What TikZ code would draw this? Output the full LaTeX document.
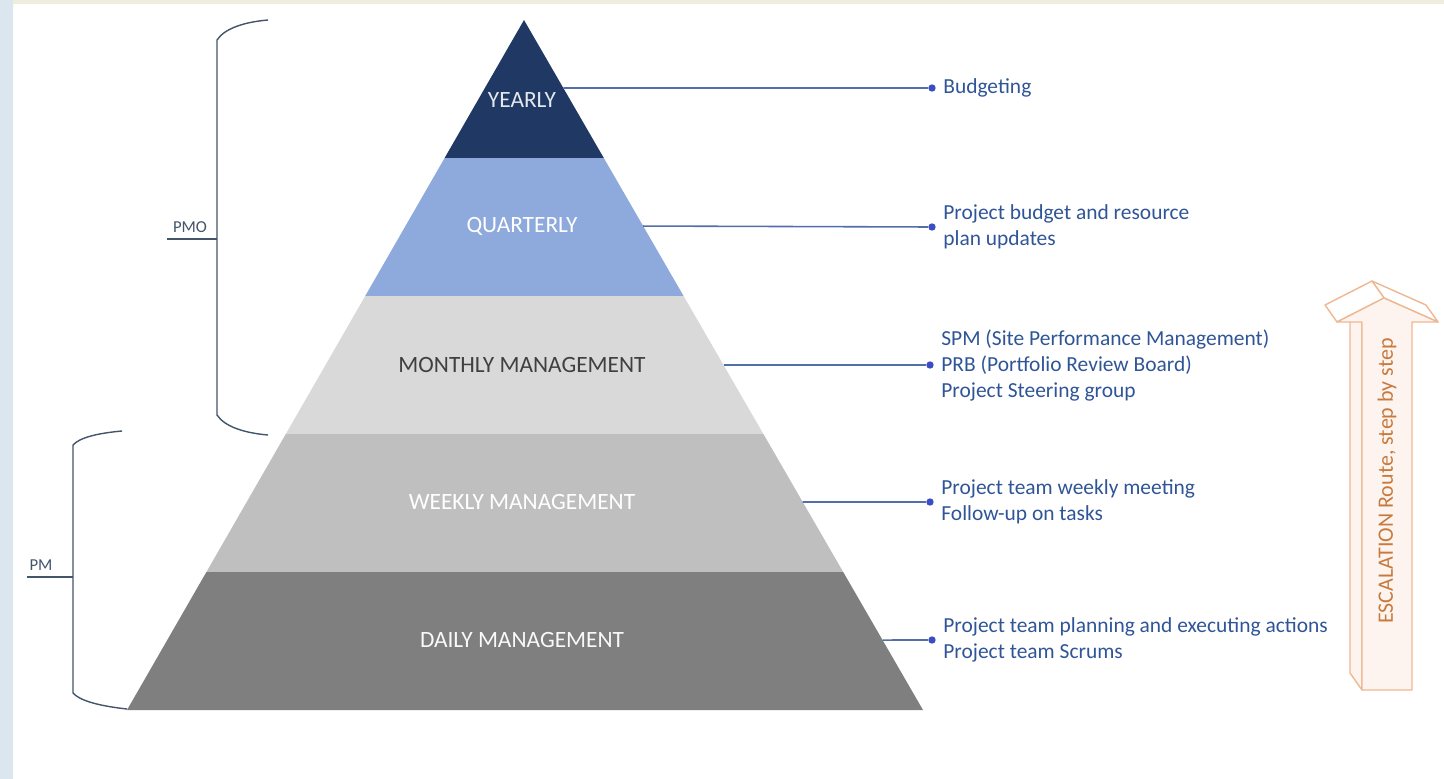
\documentclass[tikz,border=0pt]{standalone}
\usepackage{fontspec}
\setmainfont{Carlito}
\usetikzlibrary{positioning, calc}
\definecolor{Navy-1}{RGB}{31,56,100}
\definecolor{Blue-2}{RGB}{142,169,219}
\definecolor{Gray-3}{RGB}{217,217,217}
\definecolor{Gray-4}{RGB}{191,191,191}
\definecolor{Gray-5}{RGB}{127,127,127}
\definecolor{Ink-1}{RGB}{64,64,64}
\definecolor{Link-1}{RGB}{84,110,170}
\definecolor{Note-1}{RGB}{47,85,151}
\definecolor{Brace-1}{RGB}{68,84,106}
\definecolor{Esc-line}{RGB}{238,184,146}
\definecolor{Esc-fill}{RGB}{253,244,240}
\definecolor{Esc-text}{RGB}{200,122,62}
\definecolor{Edge-1}{RGB}{220,230,238}
\definecolor{Edge-2}{RGB}{251,242,210}

\begin{document}
\begin{tikzpicture}[x=0.02cm, y=-0.02cm]
      \tikzset{ lvl/.style ={font=\fontsize{13.3}{16}\selectfont, inner sep=0pt} }
      \tikzset{ lnk/.style ={draw=Link-1, line width=0.9pt} }
      \tikzset{ dot/.style ={circle, fill=Link-1!70!blue, minimum size=4.2pt, inner sep=0pt} }
      \tikzset{ note/.style={font=\fontsize{12.2}{14.8}\selectfont, text=Note-1, align=left, inner sep=0pt} }
      \tikzset{ brc/.style ={draw=Brace-1, line width=0.8pt} }
      \tikzset{ tag/.style ={font=\fontsize{9.5}{11}\selectfont, text=Brace-1, inner sep=0pt} }
      \tikzset{ esc/.style ={draw=Esc-line, line width=0.8pt, line join=round} }

      \useasboundingbox (0,0) rectangle (1444,778);
      \shade[top color=Edge-1, middle color=Edge-2, bottom color=Edge-1] (0,0) rectangle (13,778);
      \fill[Edge-1!40!Edge-2] (13,0) rectangle (1444,4);

      % pyramid
      \coordinate (apex) at (524,20);
      \coordinate (bl)   at (127,710);
      \coordinate (br)   at (923,710);
      \fill[Navy-1] (apex) -- ($(apex)!0.2!(br)$) -- ($(apex)!0.2!(bl)$) -- cycle;
      \fill[Blue-2] ($(apex)!0.2!(bl)$) -- ($(apex)!0.2!(br)$) -- ($(apex)!0.4!(br)$) -- ($(apex)!0.4!(bl)$) -- cycle;
      \fill[Gray-3] ($(apex)!0.4!(bl)$) -- ($(apex)!0.4!(br)$) -- ($(apex)!0.6!(br)$) -- ($(apex)!0.6!(bl)$) -- cycle;
      \fill[Gray-4] ($(apex)!0.6!(bl)$) -- ($(apex)!0.6!(br)$) -- ($(apex)!0.8!(br)$) -- ($(apex)!0.8!(bl)$) -- cycle;
      \fill[Gray-5] ($(apex)!0.8!(bl)$) -- ($(apex)!0.8!(br)$) -- (br) -- (bl) -- cycle;

      \node[lvl, text=white!88!Navy-1] (yearly)    at (522,100) {YEARLY};
      \node[lvl, text=white]           (quarterly) at (522,226) {QUARTERLY};
      \node[lvl, text=Ink-1]           (monthly)   at (522,365) {MONTHLY MANAGEMENT};
      \node[lvl, text=white]           (weekly)    at (522,502) {WEEKLY MANAGEMENT};
      \node[lvl, text=white!95!Gray-5] (daily)     at (522,640) {DAILY MANAGEMENT};

      \coordinate (e1) at ($(apex)!0.0986!(br)$);
      \coordinate (e2) at ($(apex)!0.2986!(br)$);
      \coordinate (e3) at ($(apex)!0.5!(br)$);
      \coordinate (e4) at ($(apex)!0.6986!(br)$);
      \coordinate (e5) at ($(apex)!0.8986!(br)$);

      \node[dot] (b1) at (932,88)  {};
      \node[dot] (b2) at (932,227) {};
      \node[dot] (b3) at (930,365) {};
      \node[dot] (b4) at (930,502) {};
      \node[dot] (b5) at (932,640) {};

      \draw[lnk] (e1) -- (b1);
      \draw[lnk] (e2) -- (b2);
      \draw[lnk] (e3) -- (b3);
      \draw[lnk] (e4) -- (b4);
      \draw[lnk] (e5) -- (b5);

      \node[note, right=0.14cm of b1] (n1) {Budgeting};
      \node[note, right=0.14cm of b2] (n2) {Project budget and resource\\plan updates};
      \node[note, right=0.14cm of b3] (n3) {SPM (Site Performance Management)\\PRB (Portfolio Review Board)\\Project Steering group};
      \node[note, right=0.14cm of b4] (n4) {Project team weekly meeting\\Follow-up on tasks};
      \node[note, right=0.14cm of b5] (n5) {Project team planning and executing actions\\Project team Scrums};

      % braces
      \draw[brc] (268,20) .. controls (245,22) and (225,28) .. (217,40) -- (217,415) .. controls (225,427) and (245,433) .. (268,435);
      \coordinate (pmo-in) at (217,239);
      \draw[brc] (pmo-in) -- ++(-50,0);
      \node[tag, anchor=south] (pmo) at (190,233) {PMO};

      \draw[brc] (122,431) .. controls (100,433) and (80,437) .. (73,445) -- (73,693) .. controls (80,701) and (100,706) .. (127,709);
      \coordinate (pm-in) at (73,577);
      \draw[brc] (pm-in) -- ++(-46,0);
      \node[tag, anchor=south] (pm) at (41,571) {PM};

      % escalation arrow
      \draw[esc, fill=Esc-fill] (1362,322) -- (1362,690) -- (1350,673) -- (1350,305) -- cycle;
      \draw[esc, fill=white] (1438,322) -- (1384,298) -- (1372,281) -- (1426,305) -- cycle;
      \draw[esc, fill=white] (1384,298) -- (1337,322) -- (1325,305) -- (1372,281) -- cycle;
      \draw[esc, fill=Esc-fill] (1362,690) -- (1412,690) -- (1412,322) -- (1438,322) -- (1384,298) -- (1337,322) -- (1362,322) -- cycle;
      \node[rotate=90, font=\fontsize{12.5}{15}\selectfont, text=Esc-text, inner sep=0pt] (esc) at (1387,481) {ESCALATION Route, step by step};
    \end{tikzpicture}
\end{document}
